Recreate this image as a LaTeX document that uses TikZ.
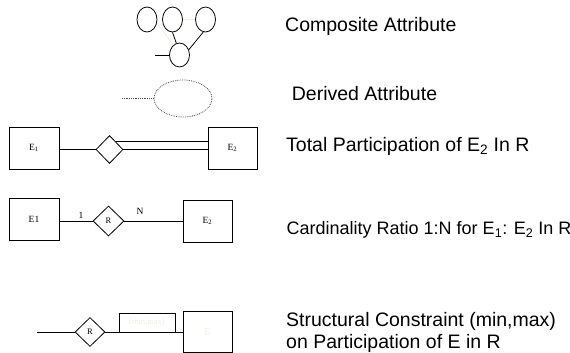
\documentclass[tikz,border=0pt]{standalone}
\usepackage{fontspec}
\setmainfont{Liberation Sans}
\newfontfamily\serifsmall{Liberation Serif}
\usetikzlibrary{shapes.geometric}
\definecolor{faint}{RGB}{236,238,226}
\tikzset{
  x=1pt, y=-1pt,
  ln/.style={draw=black, line width=0.8pt},
  ent/.style={draw=black, line width=0.8pt, minimum width=50pt, minimum height=42pt, inner sep=0pt, font=\serifsmall\fontsize{9.5}{10}\selectfont},
  rel/.style={draw=black, line width=0.8pt, diamond, inner sep=0pt, font=\serifsmall\fontsize{8.5}{10}\selectfont},
  attr/.style={draw=black, line width=0.8pt, ellipse, minimum width=20pt, minimum height=25pt, inner sep=0pt},
  caption/.style={anchor=base west, inner sep=0pt, font=\fontsize{19.5}{22}\selectfont},
  tag/.style={inner sep=0pt, font=\serifsmall\fontsize{9.5}{10}\selectfont},
}
\begin{document}
\begin{tikzpicture}
\useasboundingbox (0,0) rectangle (570,353);

% composite attribute
\node[attr] (c1) at (147,19.5) {};
\node[attr] (c2) at (172.5,19.5) {};
\node[attr] (c3) at (205.5,19.5) {};
\node[attr, minimum height=24pt] (cb) at (179.5,55) {};
\coordinate (cin) at (155,55);
\draw[faint, line width=0.8pt] (c1.-20) -- (cb.122);
\draw[faint, line width=0.8pt] (c2.east) -- (c3.west);
\draw[ln] (c2.-90) -- (cb.105);
\draw[ln] (c3.260) -- (cb.30);
\draw[ln] (cin) -- (cb.west);
\node[caption] (tcomp) at (285,32) {Composite Attribute};

% derived attribute
\node[draw=black!70, densely dotted, line width=0.8pt, ellipse, minimum width=58pt, minimum height=37pt, inner sep=0pt] (dv) at (183,98.5) {};
\coordinate (dvin) at (122,98.5);
\draw[black!70, densely dotted, line width=0.8pt] (dvin) -- (dv.west);
\node[caption] (tder) at (291.7,100) {Derived Attribute};

% total participation
\node[ent] (ta) at (34,148) {E\textsubscript{1}};
\node[rel, minimum width=27pt, minimum height=28pt] (tr) at (109.5,149.5) {};
\node[tag, text=faint, font=\serifsmall\fontsize{6}{6}\selectfont] (trl) at (109.5,133) {R};
\node[ent, minimum width=49pt] (tb) at (232.5,148) {E\textsubscript{2}};
\draw[ln] (ta.east |- tr.west) -- (tr.west);
\draw[ln] (tr.east) -- (tr.east -| tb.west);
\draw[ln] (tr.54) -- (tr.54 -| tb.west);
\node[caption] (ttot) at (286,151) {Total Participation of E\textsubscript{2} In R};

% cardinality ratio
\node[ent] (ka) at (34,219) {E1};
\node[rel, minimum width=31pt, minimum height=30pt] (kr) at (108.5,221) {R};
\node[ent, minimum width=49pt] (kb) at (207.5,221) {E\textsubscript{2}};
\draw[ln] (ka.east |- kr.west) -- (kr.west);
\draw[ln] (kr.east) -- (kb.west);
\node[tag] (k1) at (81,215) {1};
\node[tag] (kn) at (140,211) {N};
\node[caption, font=\fontsize{18}{22}\selectfont] (tcard) at (286.5,234.3) {Cardinality Ratio 1:N for E\textsubscript{1}: E\textsubscript{2} In R};

% structural constraint
\coordinate (sin) at (37,332);
\node[rel, minimum width=30pt, minimum height=29pt] (sr) at (90,332) {R};
\node[draw=black, line width=0.8pt, minimum width=56pt, minimum height=19pt, inner sep=0pt, text=faint, font=\serifsmall\fontsize{8.5}{10}\selectfont] (smm) at (147,322.5) {(min,max)};
\node[ent, minimum width=49pt, minimum height=41pt, text=faint, font=\serifsmall\fontsize{10}{10}\selectfont] (se) at (207.5,332) {E};
\draw[ln] (sin) -- (sr.west);
\draw[ln] (sr.east) -- (se.west);
\node[caption] (tstr1) at (286,326.7) {Structural Constraint (min,max)};
\node[caption] (tstr2) at (286,348) {on Participation of E in R};
\end{tikzpicture}
\end{document}
